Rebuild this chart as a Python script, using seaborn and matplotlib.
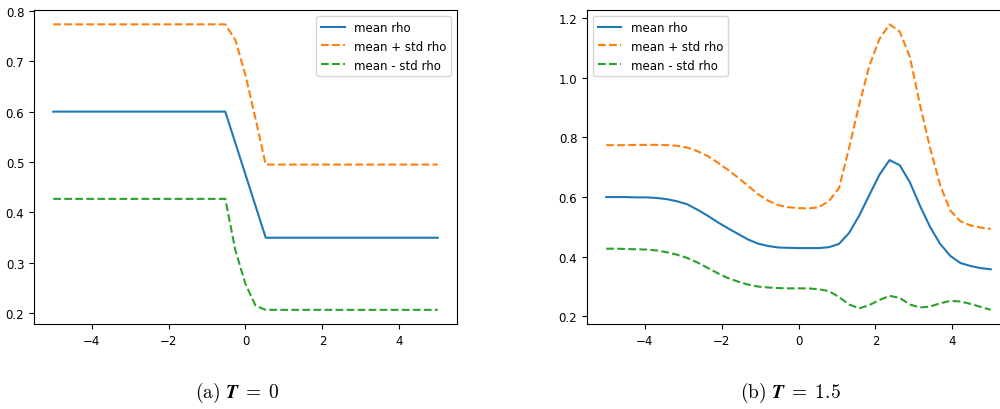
import matplotlib
matplotlib.use("Agg")
import matplotlib.pyplot as plt
import seaborn as sns
import pandas as pd

# Panel (a): T = 0 -- piecewise profile, only the knots are needed
x_a = [-5.0, -0.526, -0.263, 0.0, 0.263, 0.526, 5.0]
mean_a = [0.600, 0.600, 0.5375, 0.475, 0.4125, 0.350, 0.350]
upper_a = [0.773, 0.773, 0.742, 0.672, 0.585, 0.495, 0.495]
lower_a = [0.427, 0.427, 0.325, 0.258, 0.215, 0.207, 0.207]

# Panel (b): T = 1.5 -- sampled on 39 grid points over [-5, 5]
x_b = [-5.0, -4.737, -4.474, -4.211, -3.947, -3.684, -3.421, -3.158, -2.895, -2.632,
       -2.368, -2.105, -1.842, -1.579, -1.316, -1.053, -0.789, -0.526, -0.263, 0.0,
       0.263, 0.526, 0.789, 1.053, 1.316, 1.579, 1.842, 2.105, 2.368, 2.632,
       2.895, 3.158, 3.421, 3.684, 3.947, 4.211, 4.474, 4.737, 5.0]
mean_b = [0.600, 0.600, 0.600, 0.599, 0.599, 0.597, 0.593, 0.586, 0.576, 0.558,
          0.538, 0.516, 0.496, 0.477, 0.458, 0.444, 0.436, 0.431, 0.430, 0.429,
          0.429, 0.429, 0.432, 0.443, 0.480, 0.538, 0.607, 0.675, 0.724, 0.707,
          0.650, 0.571, 0.500, 0.443, 0.403, 0.379, 0.369, 0.362, 0.358]
upper_b = [0.774, 0.774, 0.774, 0.775, 0.775, 0.775, 0.774, 0.772, 0.766, 0.754,
           0.738, 0.716, 0.692, 0.666, 0.638, 0.610, 0.588, 0.573, 0.566, 0.563,
           0.562, 0.566, 0.586, 0.630, 0.765, 0.910, 1.040, 1.130, 1.179, 1.155,
           1.070, 0.910, 0.765, 0.640, 0.555, 0.519, 0.505, 0.498, 0.493]
lower_b = [0.427, 0.427, 0.426, 0.425, 0.424, 0.421, 0.415, 0.407, 0.396, 0.381,
           0.363, 0.345, 0.329, 0.317, 0.307, 0.300, 0.297, 0.295, 0.294, 0.294,
           0.294, 0.291, 0.285, 0.265, 0.240, 0.227, 0.238, 0.255, 0.269, 0.262,
           0.240, 0.230, 0.233, 0.244, 0.252, 0.250, 0.242, 0.232, 0.222]

labels = ["mean rho", "mean + std rho", "mean - std rho"]
captions = [r"$\mathrm{(a)}\ \mathbfit{T}\;=\;0$", r"$\mathrm{(b)}\ \mathbfit{T}\;=\;1.5$"]

plt.rcParams.update({
    "font.size": 8.5,
    "mathtext.fontset": "cm",
})

fig = plt.figure(figsize=(10, 4.1), dpi=100)
ax_a = fig.add_axes([0.034, 0.207, 0.423, 0.766])
ax_b = fig.add_axes([0.587, 0.207, 0.423, 0.766])


def draw(ax, x, mean, upper, lower, loc):
    df = pd.DataFrame({"x": x, "mean": mean, "upper": upper, "lower": lower})
    sns.lineplot(data=df, x="x", y="mean", ax=ax, color="C0", label=labels[0])
    sns.lineplot(data=df, x="x", y="upper", ax=ax, color="C1", linestyle="--", label=labels[1])
    sns.lineplot(data=df, x="x", y="lower", ax=ax, color="C2", linestyle="--", label=labels[2])
    ax.set_xlabel("")
    ax.set_ylabel("")
    ax.legend(loc=loc)


draw(ax_a, x_a, mean_a, upper_a, lower_a, "upper right")
draw(ax_b, x_b, mean_b, upper_b, lower_b, "upper left")

fig.text(0.2375, 0.042, captions[0], ha="center", va="center", fontsize=14)
fig.text(0.790, 0.042, captions[1], ha="center", va="center", fontsize=14)

fig.savefig("out.png", dpi=100)
